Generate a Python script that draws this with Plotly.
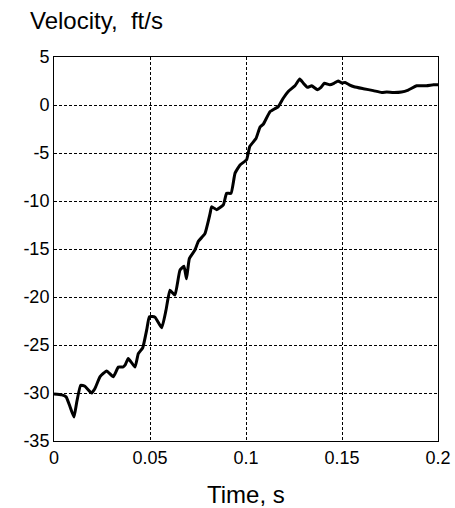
import plotly.graph_objects as go

time_s = [0.0, 0.004, 0.0063, 0.0083, 0.0104, 0.0118, 0.0139, 0.0161, 0.0196, 0.0214,
          0.024, 0.0274, 0.0309, 0.0335, 0.0358, 0.037, 0.0387, 0.0422, 0.0439, 0.0462,
          0.0483, 0.0497, 0.0526, 0.0561, 0.0583, 0.0604, 0.063, 0.0656, 0.0677, 0.069,
          0.0705, 0.0734, 0.0752, 0.0786, 0.0813, 0.0821, 0.0847, 0.0882, 0.0899, 0.0922,
          0.0943, 0.0969, 0.1003, 0.102, 0.1052, 0.1073, 0.109, 0.1125, 0.1168, 0.1194,
          0.122, 0.1255, 0.128, 0.1299, 0.132, 0.1342, 0.1372, 0.1389, 0.1408, 0.1437,
          0.1458, 0.148, 0.1498, 0.1516, 0.1538, 0.1563, 0.1611, 0.1663, 0.1707, 0.1733,
          0.1767, 0.181, 0.1845, 0.1889, 0.194, 0.1976, 0.2]
velocity_fts = [-30.1, -30.2, -30.4, -31.4, -32.5, -31.0, -29.2, -29.3, -30.0, -29.5,
                -28.3, -27.7, -28.3, -27.3, -27.3, -27.1, -26.4, -27.3, -25.9, -25.3,
                -23.4, -22.05, -22.1, -23.2, -21.4, -19.3, -19.8, -17.2, -16.8, -18.1,
                -16.0, -15.1, -14.2, -13.4, -11.3, -10.6, -10.9, -10.4, -9.2, -9.2,
                -7.1, -6.25, -5.7, -4.3, -3.5, -2.3, -2.0, -0.7, -0.17, 0.7,
                1.4, 2.0, 2.7, 2.26, 1.84, 2.0, 1.6, 1.8, 2.26, 2.1,
                2.26, 2.5, 2.3, 2.35, 2.1, 1.9, 1.7, 1.5, 1.3, 1.35,
                1.3, 1.35, 1.56, 2.0, 2.0, 2.1, 2.1]

x_ticks = [0, 0.05, 0.1, 0.15, 0.2]
x_tick_labels = ["0", "0.05", "0.1", "0.15", "0.2"]
y_ticks = [-35, -30, -25, -20, -15, -10, -5, 0, 5]
y_tick_labels = ["-35", "-30", "-25", "-20", "-15", "-10", "-5", "0", "5"]

FONT = "Liberation Sans, Arial, sans-serif"

fig = go.Figure()
fig.add_trace(go.Scatter(x=time_s, y=velocity_fts, mode="lines",
                         line=dict(color="black", width=3, shape="spline", smoothing=0.4),
                         showlegend=False, hoverinfo="skip"))

axis_common = dict(showline=True, linecolor="black", linewidth=1, mirror=True,
                   showgrid=True, gridcolor="black", gridwidth=1, griddash="3px,2px",
                   zeroline=False, ticks="", automargin=False,
                   tickfont=dict(family=FONT, size=18, color="black"))

fig.update_xaxes(range=[0, 0.2], tickvals=x_ticks, ticktext=x_tick_labels, **axis_common)
fig.update_yaxes(range=[-35, 5], tickvals=y_ticks, ticktext=y_tick_labels, **axis_common)

fig.update_layout(
    width=455, height=508,
    margin=dict(l=54, r=17, t=57, b=67, autoexpand=False),
    plot_bgcolor="white", paper_bgcolor="white",
    font=dict(family=FONT, color="black"),
    hovermode=False,
    annotations=[
        dict(text="Velocity,  ft/s", xref="paper", yref="paper", x=-0.068, y=1.0,
             yshift=37, xanchor="left", yanchor="middle", showarrow=False,
             font=dict(family=FONT, size=24, color="black")),
        dict(text="Time, s", xref="paper", yref="paper", x=0.5, y=0.0, yshift=-53,
             xanchor="center", yanchor="middle", showarrow=False,
             font=dict(family=FONT, size=24, color="black")),
    ],
)

fig.write_html("out.html", config={"displayModeBar": False},
               post_script="document.body.style.margin='0';")
